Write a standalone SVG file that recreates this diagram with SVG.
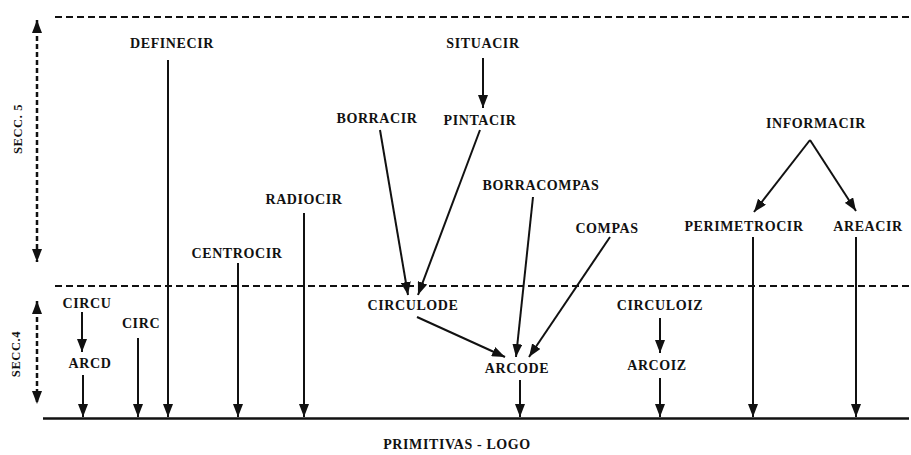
<svg xmlns="http://www.w3.org/2000/svg" width="911" height="455" viewBox="0 0 911 455">
<style>
text{font-family:"Liberation Serif","DejaVu Serif",serif;font-weight:bold;font-size:14px;letter-spacing:0.6px;fill:#111;text-anchor:middle}
.c{stroke:#111;stroke-width:2;fill:none}
.d{stroke:#111;stroke-width:2;stroke-dasharray:7 4;fill:none}
.v{stroke:#111;stroke-width:2.5;stroke-dasharray:5 3;fill:none}
</style>
<defs>
<marker id="b" markerUnits="userSpaceOnUse" markerWidth="14" markerHeight="10" viewBox="0 0 14 10" refX="13" refY="5" orient="auto-start-reverse">
<path d="M0,0 L13,5 L0,10 Z" fill="#111"/>
</marker>
</defs>
<g id="frame">
<line class="d" x1="55" y1="17" x2="911" y2="17"/>
<line class="d" x1="55" y1="286" x2="911" y2="286"/>
<line x1="43" y1="418.5" x2="909" y2="418.5" stroke="#111" stroke-width="2.5"/>
<line class="v" x1="37" y1="20" x2="37" y2="262" marker-start="url(#b)" marker-end="url(#b)"/>
<line class="v" x1="37" y1="301" x2="37" y2="404" marker-start="url(#b)" marker-end="url(#b)"/>
<text transform="translate(22,129) rotate(-90)" style="font-size:12.5px">SECC. 5</text>
<text transform="translate(20,354) rotate(-90)" style="font-size:12.5px">SECC.4</text>
<text x="457" y="449">PRIMITIVAS - LOGO</text>
</g>
<g id="connectors">
<line class="c" x1="168" y1="60" x2="168" y2="417" marker-end="url(#b)"/>
<line class="c" x1="483" y1="58" x2="483" y2="108" marker-end="url(#b)"/>
<line class="c" x1="380" y1="130" x2="408" y2="295" marker-end="url(#b)"/>
<line class="c" x1="480" y1="130" x2="418" y2="295" marker-end="url(#b)"/>
<line class="c" x1="533" y1="197" x2="516" y2="357" marker-end="url(#b)"/>
<line class="c" x1="610" y1="237" x2="529" y2="357" marker-end="url(#b)"/>
<line class="c" x1="417" y1="317" x2="505" y2="357" marker-end="url(#b)"/>
<line class="c" x1="520" y1="380" x2="520" y2="417" marker-end="url(#b)"/>
<line class="c" x1="304" y1="213" x2="304" y2="417" marker-end="url(#b)"/>
<line class="c" x1="238" y1="263" x2="238" y2="417" marker-end="url(#b)"/>
<line class="c" x1="82" y1="312" x2="82" y2="352" marker-end="url(#b)"/>
<line class="c" x1="83" y1="375" x2="83" y2="417" marker-end="url(#b)"/>
<line class="c" x1="138" y1="338" x2="138" y2="417" marker-end="url(#b)"/>
<line class="c" x1="660" y1="318" x2="660" y2="353" marker-end="url(#b)"/>
<line class="c" x1="660" y1="378" x2="660" y2="417" marker-end="url(#b)"/>
<line class="c" x1="810" y1="140" x2="754" y2="212" marker-end="url(#b)"/>
<line class="c" x1="810" y1="140" x2="856" y2="211" marker-end="url(#b)"/>
<line class="c" x1="753" y1="237" x2="753" y2="417" marker-end="url(#b)"/>
<line class="c" x1="856" y1="237" x2="856" y2="417" marker-end="url(#b)"/>
</g>
<g id="n-definecir"><text x="172" y="48">DEFINECIR</text></g>
<g id="n-situacir"><text x="483" y="48">SITUACIR</text></g>
<g id="n-borracir"><text x="377" y="123">BORRACIR</text></g>
<g id="n-pintacir"><text x="480" y="125">PINTACIR</text></g>
<g id="n-borracompas"><text x="541" y="190">BORRACOMPAS</text></g>
<g id="n-compas"><text x="607" y="233">COMPAS</text></g>
<g id="n-radiocir"><text x="304" y="204">RADIOCIR</text></g>
<g id="n-centrocir"><text x="237" y="258">CENTROCIR</text></g>
<g id="n-circulode"><text x="413" y="310">CIRCULODE</text></g>
<g id="n-arcode"><text x="517" y="373">ARCODE</text></g>
<g id="n-circu"><text x="87" y="308">CIRCU</text></g>
<g id="n-arcd"><text x="90" y="368">ARCD</text></g>
<g id="n-circ"><text x="141" y="328">CIRC</text></g>
<g id="n-circuloiz"><text x="660" y="310">CIRCULOIZ</text></g>
<g id="n-arcoiz"><text x="657" y="370">ARCOIZ</text></g>
<g id="n-informacir"><text x="816" y="128">INFORMACIR</text></g>
<g id="n-perimetrocir"><text x="744" y="231">PERIMETROCIR</text></g>
<g id="n-areacir"><text x="868" y="231">AREACIR</text></g>
</svg>
